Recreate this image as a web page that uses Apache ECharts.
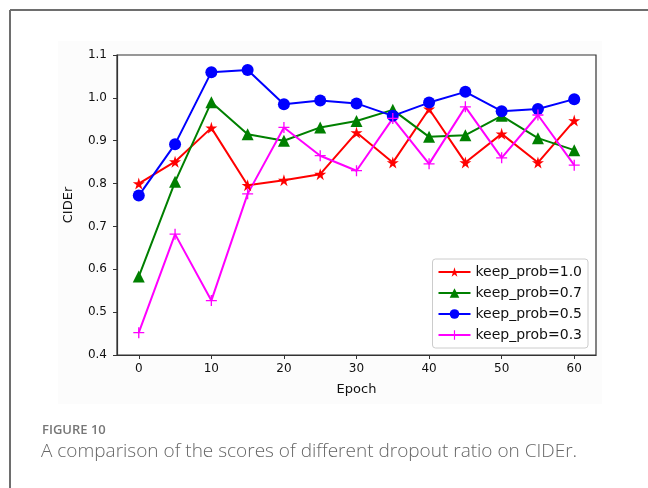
<!DOCTYPE html>
<html>
<head>
<meta charset="utf-8">
<script src="https://cdn.jsdelivr.net/npm/echarts@6/dist/echarts.min.js"></script>
<style>
  html, body { margin: 0; padding: 0; background: #fff; }
  #chart { width: 648px; height: 488px; }
</style>
</head>
<body>
<div id="chart"></div>
<script>
// epochs on the x axis
const epochs = [0, 5, 10, 15, 20, 25, 30, 35, 40, 45, 50, 55, 60];
const xTicks = [0, 10, 20, 30, 40, 50, 60];

// CIDEr scores
const keep10 = [0.800, 0.851, 0.930, 0.796, 0.808, 0.822, 0.919, 0.849, 0.974, 0.849, 0.916, 0.849, 0.947];
const keep07 = [0.583, 0.804, 0.990, 0.915, 0.900, 0.931, 0.946, 0.972, 0.909, 0.913, 0.958, 0.906, 0.878];
const keep05 = [0.772, 0.892, 1.060, 1.065, 0.985, 0.994, 0.987, 0.958, 0.989, 1.014, 0.969, 0.974, 0.997];
const keep03 = [0.452, 0.682, 0.527, 0.776, 0.931, 0.865, 0.830, 0.952, 0.846, 0.979, 0.860, 0.960, 0.843];

const seriesNames = ['keep_prob=1.0', 'keep_prob=0.7', 'keep_prob=0.5', 'keep_prob=0.3'];

const starPath = 'path://M50,0 L61,35 L98,35 L68,57 L79,91 L50,70 L21,91 L32,57 L2,35 L39,35 Z';
const plusPath = 'path://M4.4,0h1.2v4.4h4.4v1.2h-4.4v4.4h-1.2v-4.4h-4.4v-1.2h4.4z';

const pairs = arr => epochs.map((e, i) => [e, arr[i]]);

const chart = echarts.init(document.getElementById('chart'));

const mkSeries = (name, data, color, symbol, size) => ({
    name: name,
    type: 'line',
    data: pairs(data),
    symbol: symbol,
    symbolSize: size,
    showAllSymbol: true,
    lineStyle: { color: color, width: 2 },
    itemStyle: { color: color },
    emphasis: { disabled: true },
    z: 3
});

chart.setOption({
    animation: false,
    textStyle: { fontFamily: 'DejaVu Sans' },
    graphic: [
        // light figure background like the matplotlib canvas
        { type: 'rect', shape: { x: 58, y: 41, width: 544, height: 363 }, style: { fill: '#fcfcfc' }, z: -10 },
        // card border (top + left)
        { type: 'line', shape: { x1: 10, y1: 10, x2: 648, y2: 10 }, style: { stroke: '#6e6e6e', lineWidth: 2 } },
        { type: 'line', shape: { x1: 10, y1: 10, x2: 10, y2: 488 }, style: { stroke: '#6e6e6e', lineWidth: 2 } },
        { type: 'text', left: 42, top: 424, style: { text: 'FIGURE 10', fill: '#777', font: '600 13px "Open Sans"' } },
        { type: 'text', left: 41, top: 442, style: { text: 'A comparison of the scores of different dropout ratio on CIDEr.', fill: '#666', font: '300 19px "Open Sans"' } }
    ],
    grid: { left: 117, top: 55, right: 52, bottom: 133, show: true, borderColor: '#333', borderWidth: 1.2, backgroundColor: '#fff' },
    legend: {
        data: seriesNames,
        orient: 'vertical',
        right: 60,
        bottom: 140,
        itemWidth: 32,
        itemHeight: 12,
        itemGap: 7,
        padding: [6, 6, 6, 5],
        backgroundColor: '#fff',
        borderColor: '#ccc',
        borderWidth: 1,
        borderRadius: 3,
        textStyle: { fontSize: 14, color: '#111', fontFamily: 'DejaVu Sans' }
    },
    xAxis: {
        type: 'value',
        min: -3,
        max: 63,
        name: 'Epoch',
        nameLocation: 'middle',
        nameGap: 28,
        nameTextStyle: { fontSize: 13, color: '#111' },
        axisLine: { show: true, onZero: false, lineStyle: { color: '#333', width: 1.2 } },
        axisTick: { show: true, customValues: xTicks, length: 4, lineStyle: { color: '#333' } },
        axisLabel: { customValues: xTicks, fontSize: 12, color: '#111', margin: 8 },
        splitLine: { show: false }
    },
    yAxis: {
        type: 'value',
        min: 0.4,
        max: 1.1,
        interval: 0.1,
        name: 'CIDEr',
        nameLocation: 'middle',
        nameGap: 42,
        nameTextStyle: { fontSize: 13, color: '#111' },
        axisLine: { show: true, onZero: false, lineStyle: { color: '#333', width: 1.2 } },
        axisTick: { show: true, length: 4, lineStyle: { color: '#333' } },
        axisLabel: { fontSize: 12, color: '#111', margin: 10, formatter: v => v.toFixed(1) },
        splitLine: { show: false }
    },
    series: [
        mkSeries(seriesNames[0], keep10, '#ff0000', starPath, 12),
        mkSeries(seriesNames[1], keep07, '#008000', 'triangle', 12),
        mkSeries(seriesNames[2], keep05, '#0000ff', 'circle', 12),
        mkSeries(seriesNames[3], keep03, '#ff00ff', plusPath, 11)
    ]
});
</script>
</body>
</html>
